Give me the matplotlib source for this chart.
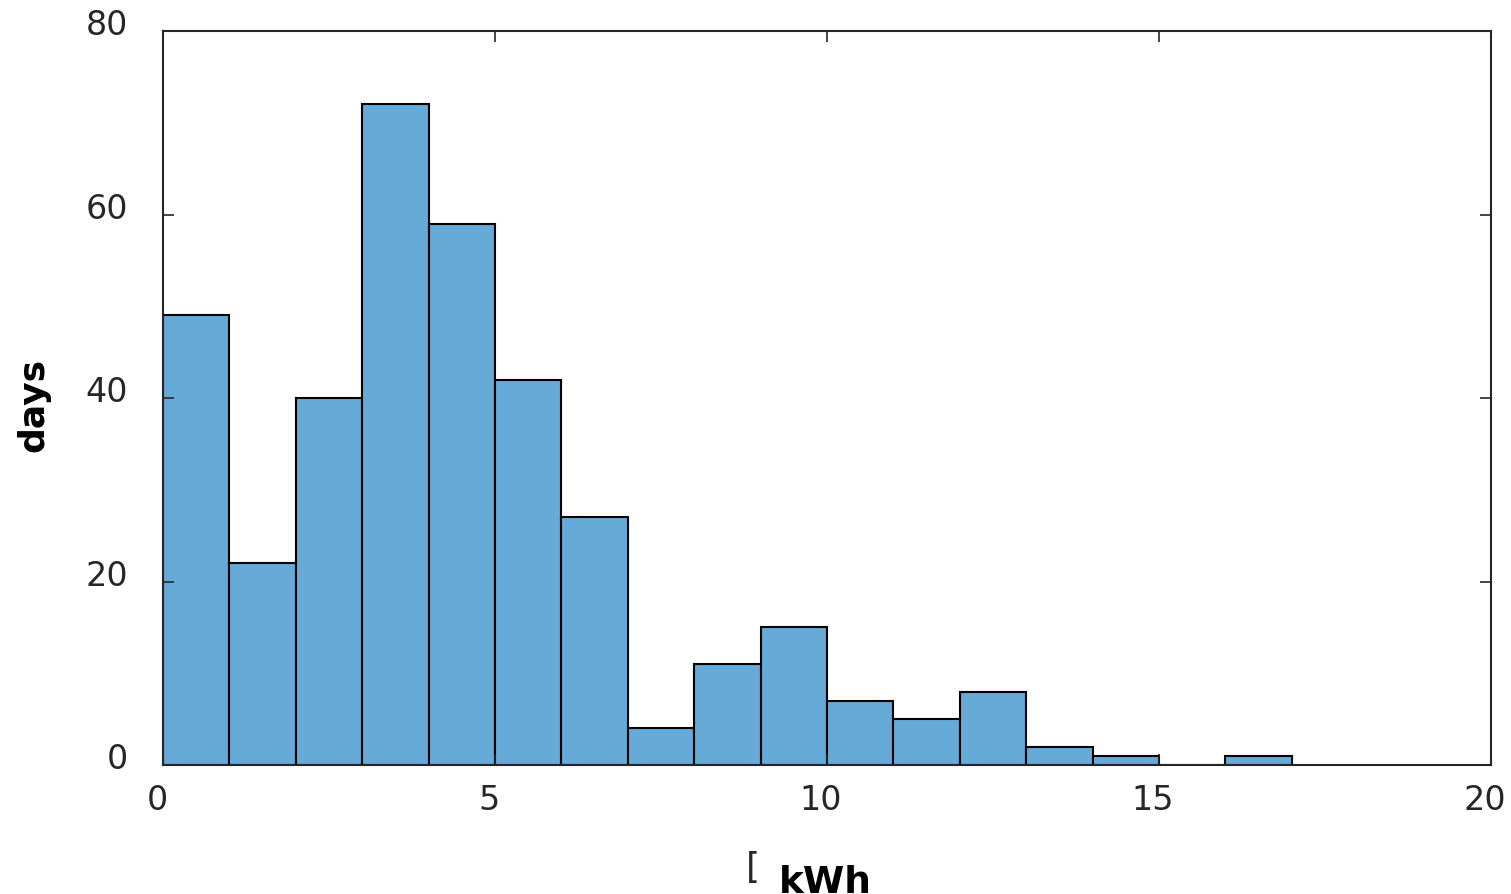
import matplotlib
matplotlib.use('Agg')
import matplotlib.pyplot as plt
import matplotlib.transforms as mtransforms
import numpy as np

# histogram of daily energy, 1 kWh bins
bin_edges = np.arange(0, 18, 1)
counts = [49, 22, 40, 72, 59, 42, 27, 4, 11, 15, 7, 5, 8, 2, 1, 0, 1]
x_ticks = [0, 5, 10, 15, 20]
y_ticks = [0, 20, 40, 60, 80]

fig = plt.figure(figsize=(15.11, 8.94), dpi=100)
ax = fig.add_axes([0.1079, 0.1443, 0.8789, 0.8210])

ax.bar(bin_edges[:-1], counts, width=np.diff(bin_edges), align='edge',
       color='#66AAD7', edgecolor='black', linewidth=1.5)

ax.set_xlim(0, 20)
ax.set_ylim(0, 80)
ax.set_xticks(x_ticks)
ax.set_yticks(y_ticks)
ax.tick_params(direction='in', top=True, right=True, length=8, width=1.2,
               labelsize=24, labelcolor='#262626', color='#262626')
ax.tick_params(axis='x', pad=14)
ax.tick_params(axis='y', pad=25)
for s in ax.spines.values():
    s.set_color('#262626')
    s.set_linewidth(1.5)

# labels sit a bit off their ticks in the original
up = mtransforms.ScaledTranslation(0, 9 / 100, fig.dpi_scale_trans)
for lab in ax.get_yticklabels():
    lab.set_transform(lab.get_transform() + up)
left = mtransforms.ScaledTranslation(-6 / 100, 0, fig.dpi_scale_trans)
for lab in ax.get_xticklabels():
    lab.set_transform(lab.get_transform() + left)

ax.set_ylabel('days', fontsize=26, fontweight='bold')
ax.yaxis.set_label_coords(-0.085, 0.49)
fig.text(0.4985, 0.010, '[', fontsize=26, color='#262626', ha='center', va='bottom')
fig.text(0.546, -0.008, 'kWh', fontsize=27, fontweight='bold', ha='center', va='bottom')

fig.savefig('out.png', dpi=100)
